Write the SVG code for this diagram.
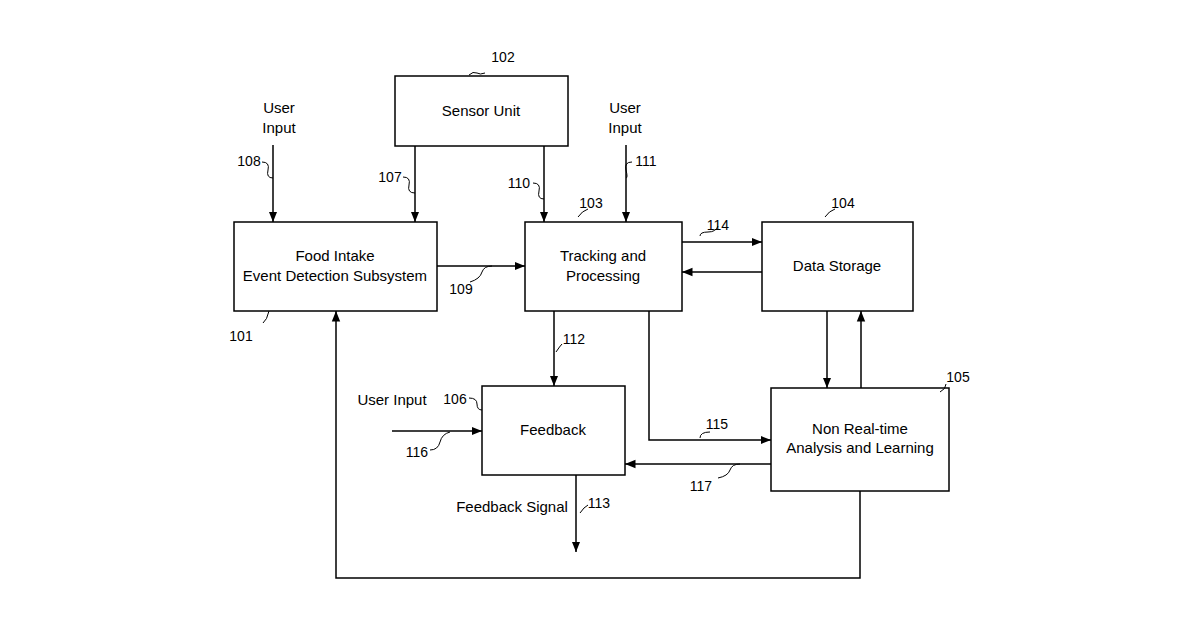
<svg xmlns="http://www.w3.org/2000/svg" width="1200" height="630" viewBox="0 0 1200 630">
<style>
.b{fill:#fff;stroke:#000;stroke-width:1.5}
.c{fill:none;stroke:#000;stroke-width:1.5}
.l{fill:none;stroke:#000;stroke-width:1}
text{font-family:"Liberation Sans",Arial,sans-serif;font-size:15px;fill:#000;text-anchor:middle}
.n{font-size:14px}
</style>
<defs><marker id="a" viewBox="0 0 10 10" refX="10" refY="5" markerWidth="7" markerHeight="7" orient="auto"><path d="M0,1 L10,5 L0,9 z" fill="#000"/></marker></defs>
<g id="n102"><rect class="b" x="395" y="76" width="173" height="70"/><text x="481" y="116">Sensor Unit</text></g>
<g id="n101"><rect class="b" x="234" y="222" width="203" height="89"/><text x="335" y="261">Food Intake</text><text x="335" y="281">Event Detection Subsystem</text></g>
<g id="n103"><rect class="b" x="525" y="222" width="157" height="89"/><text x="603" y="261">Tracking and</text><text x="603" y="281">Processing</text></g>
<g id="n104"><rect class="b" x="762" y="222" width="151" height="89"/><text x="837" y="271">Data Storage</text></g>
<g id="n106"><rect class="b" x="482" y="386" width="143" height="89"/><text x="553" y="435">Feedback</text></g>
<g id="n105"><rect class="b" x="771" y="388" width="178" height="103"/><text x="860" y="434">Non Real-time</text><text x="860" y="453">Analysis and Learning</text></g>
<g id="connectors">
<path class="c" d="M273,145V222" marker-end="url(#a)"/>
<path class="c" d="M415,146V222" marker-end="url(#a)"/>
<path class="c" d="M544,146V222" marker-end="url(#a)"/>
<path class="c" d="M626,145V222" marker-end="url(#a)"/>
<path class="c" d="M437,266H525" marker-end="url(#a)"/>
<path class="c" d="M682,242H762" marker-end="url(#a)"/>
<path class="c" d="M762,272H682" marker-end="url(#a)"/>
<path class="c" d="M554,311V386" marker-end="url(#a)"/>
<path class="c" d="M649,311V440H771" marker-end="url(#a)"/>
<path class="c" d="M771,464H625" marker-end="url(#a)"/>
<path class="c" d="M827,311V388" marker-end="url(#a)"/>
<path class="c" d="M861,388V311" marker-end="url(#a)"/>
<path class="c" d="M860,491V578H336V311" marker-end="url(#a)"/>
<path class="c" d="M392,431H482" marker-end="url(#a)"/>
<path class="c" d="M576,475V552" marker-end="url(#a)"/>
<path class="l" d="M485,73q-5,2 -8,0q-4,-2 -8,2"/>
<path class="l" d="M262,162q8,0 6,8q-2,8 5,8"/>
<path class="l" d="M403,177q8,0 6,8q-2,8 6,8"/>
<path class="l" d="M533,183q8,0 6,8q-2,8 5,8"/>
<path class="l" d="M632,162q-8,0 -6,8q2,8 -0,8"/>
<path class="l" d="M578,217q4,-6 10,-8"/>
<path class="l" d="M263,323q4,-3 6,-12"/>
<path class="l" d="M470,282q10,-3 12,-10q2,-6 10,-6"/>
<path class="l" d="M700,236q0,-4 8,-4q8,0 10,-6"/>
<path class="l" d="M825,217q4,-6 10,-8"/>
<path class="l" d="M556,352q4,-6 6,-8"/>
<path class="l" d="M469,398q8,0 8,6q0,6 5,6"/>
<path class="l" d="M430,450q8,0 10,-8q2,-8 10,-10"/>
<path class="l" d="M700,438q0,-6 10,-6"/>
<path class="l" d="M940,392q6,-3 6,-8"/>
<path class="l" d="M718,478q10,-2 12,-8q2,-6 10,-6"/>
<path class="l" d="M580,513q4,-6 8,-8"/>
</g>
<g id="labels">
<text x="279" y="113">User</text><text x="279" y="133">Input</text>
<text x="625" y="113">User</text><text x="625" y="133">Input</text>
<text x="392" y="405">User Input</text>
<text x="512" y="512">Feedback Signal</text>
<text class="n" x="503" y="62">102</text>
<text class="n" x="249" y="166">108</text>
<text class="n" x="390" y="182">107</text>
<text class="n" x="519" y="188">110</text>
<text class="n" x="646" y="166">111</text>
<text class="n" x="591" y="208">103</text>
<text class="n" x="843" y="208">104</text>
<text class="n" x="241" y="341">101</text>
<text class="n" x="461" y="294">109</text>
<text class="n" x="718" y="230">114</text>
<text class="n" x="574" y="344">112</text>
<text class="n" x="455" y="404">106</text>
<text class="n" x="417" y="457">116</text>
<text class="n" x="717" y="429">115</text>
<text class="n" x="958" y="382">105</text>
<text class="n" x="701" y="491">117</text>
<text class="n" x="599" y="508">113</text>
</g>
</svg>
